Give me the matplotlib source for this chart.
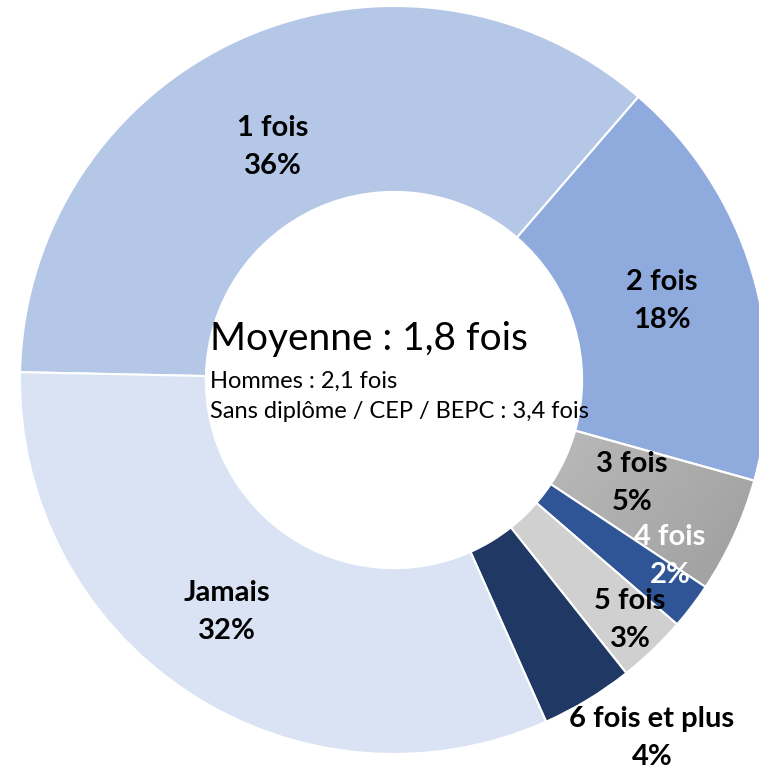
import numpy as np
import matplotlib
matplotlib.use("Agg")
import matplotlib.pyplot as plt

# ---------------- Data ----------------

categories = ["1 fois", "2 fois", "3 fois", "4 fois", "5 fois", "6 fois et plus", "Jamais"]
shares = [36, 18, 5, 2, 3, 4, 32]
pct_labels = ["36%", "18%", "5%", "2%", "3%", "4%", "32%"]

center_title = "Moyenne : 1,8 fois"
center_lines = ["Hommes : 2,1 fois", "Sans diplôme / CEP / BEPC : 3,4 fois"]

# ---------------- Style ----------------

colors = ["#B4C7E7", "#8FAADC", "#A5A5A5", "#2F5597", "#D0D0D0", "#203864", "#DAE3F3"]
label_colors = ["black", "black", "black", "white", "black", "black", "black"]
# label positions (pie data coords, radius = 1)
label_pos = [(-0.324, 0.623), (0.717, 0.211), (0.636, -0.276), (0.738, -0.471),
             (0.631, -0.642), (0.690, -0.957), (-0.447, -0.620)]

plt.rcParams["font.family"] = ["Lato", "DejaVu Sans"]

W, H = 759, 775
cx, cy, R = 394, 380, 374

fig = plt.figure(figsize=(W / 100, H / 100), dpi=100)
ax = fig.add_axes([(cx - R) / W, (H - cy - R) / H, 2 * R / W, 2 * R / H])

wedges, _ = ax.pie(shares, colors=colors, startangle=178.8, counterclock=False,
                   radius=1.0, wedgeprops=dict(width=0.497, edgecolor="white", linewidth=1.5))

# gradient fill for the "3 fois" slice
w3 = wedges[2]
w3.set_facecolor("none")
yy, xx = np.mgrid[-1:1:400j, -1:1:400j]
grad = 0.70 - 0.12 * (xx - 0.5) + 0.10 * (yy + 0.3)
img = ax.imshow(grad, extent=(-1, 1, -1, 1), origin="lower", cmap="gray",
                vmin=0, vmax=1, zorder=0.5)
img.set_clip_path(w3)

for (x, y), cat, pct, col in zip(label_pos, categories, pct_labels, label_colors):
    ax.text(x, y, f"{cat}\n{pct}", ha="center", va="center", fontsize=21,
            fontweight="bold", color=col, linespacing=1.55, clip_on=False, zorder=5)

ax.text(-0.492, 0.110, center_title, ha="left", va="center", fontsize=28, zorder=5)
ax.text(-0.492, -0.003, center_lines[0], ha="left", va="center", fontsize=17, zorder=5)
ax.text(-0.492, -0.083, center_lines[1], ha="left", va="center", fontsize=17, zorder=5)

ax.set_xlim(-1, 1)
ax.set_ylim(-1, 1)
ax.axis("off")

fig.savefig("out.png", dpi=100)
